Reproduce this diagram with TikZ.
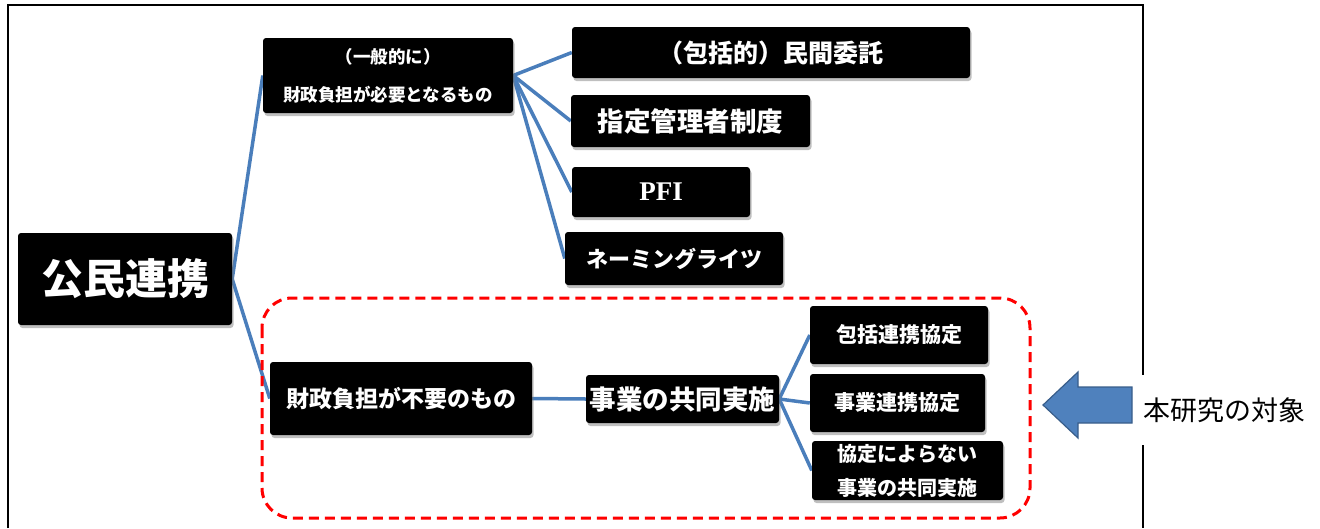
\documentclass[tikz,border=0pt]{standalone}
\usepackage{fontspec}
\setmainfont{Noto Sans CJK JP}
\newfontfamily\pfifont{Liberation Serif}
\usetikzlibrary{shadows,backgrounds}
\definecolor{linkblue}{RGB}{74,126,187}
\definecolor{arrowblue}{RGB}{79,129,189}
\definecolor{arrowedge}{RGB}{56,93,138}

\begin{document}
\begin{tikzpicture}[x=1pt,y=-1pt,
  box/.style={fill=black,text=white,rounded corners=3pt,inner sep=0pt,align=center,
    drop shadow={shadow xshift=1.5pt,shadow yshift=-3pt,opacity=.5}},
  link/.style={linkblue,line width=3.5pt}]
\useasboundingbox (0,0) rectangle (1320,528);
% frame (runs off the bottom)
\draw[line width=1.6pt] (8,528) -- (8,5) -- (1143,5) -- (1143,528);

% area of this study
\draw[red,line width=3pt,dash pattern=on 10pt off 6pt,rounded corners=30pt]
  (262,298) rectangle (1030,518);

% root
\node[box,minimum width=214,minimum height=92,font=\fontsize{42}{46}\selectfont\bfseries] (koumin) at (125,279) {公民連携};

% with financial burden
\node[box,minimum width=250,minimum height=75,font=\fontsize{17.5}{38}\selectfont\bfseries] (hitsuyou) at (388,75.5) {（一般的に）\\財政負担が必要となるもの};
\node[box,minimum width=398,minimum height=51,font=\fontsize{25}{28}\selectfont\bfseries] (itaku) at (771,52.5) {（包括的）民間委託};
\node[box,minimum width=239,minimum height=52,font=\fontsize{26.5}{28}\selectfont\bfseries] (shitei) at (690.5,121) {指定管理者制度};
\node[box,minimum width=178,minimum height=50,font=\fontsize{27}{30}\selectfont\pfifont\bfseries] (pfi) at (661,192) {PFI};
\node[box,minimum width=218,minimum height=53,font=\fontsize{22}{26}\selectfont\bfseries] (naming) at (674,258.5) {ネーミングライツ};

% without financial burden
\node[box,minimum width=262,minimum height=73,font=\fontsize{23}{26}\selectfont\bfseries] (fuyou) at (401,398.5) {財政負担が不要のもの};
\node[box,minimum width=193,minimum height=48,font=\fontsize{26.5}{28}\selectfont\bfseries] (kyoudou) at (682.5,399) {事業の共同実施};
\node[box,minimum width=178,minimum height=58,font=\fontsize{21}{24}\selectfont\bfseries] (houkatsu) at (899,335) {包括連携協定};
\node[box,minimum width=175,minimum height=58,font=\fontsize{21}{24}\selectfont\bfseries] (jigyou) at (897.5,403) {事業連携協定};
\node[box,minimum width=191,minimum height=59,font=\fontsize{20}{34}\selectfont\bfseries] (yoranai) at (907.5,470.5) {協定によらない\\事業の共同実施};

\begin{scope}[on background layer]
\draw[link] (koumin.east) -- (hitsuyou.west);
\draw[link] (koumin.east) -- (fuyou.west);
\draw[link] (hitsuyou.east) -- (itaku.west);
\draw[link] (hitsuyou.east) -- (shitei.west);
\draw[link] (hitsuyou.east) -- (pfi.west);
\draw[link] (hitsuyou.east) -- (naming.west);
\draw[link] (fuyou.east) -- (kyoudou.west);
\draw[link] (kyoudou.east) -- (houkatsu.west);
\draw[link] (kyoudou.east) -- (jigyou.west);
\draw[link] (kyoudou.east) -- (yoranai.west);
\end{scope}

% pointer to the study
\filldraw[fill=arrowblue,draw=arrowedge,line width=1.2pt]
  (1043,405) -- (1078,372) -- (1078,387) -- (1132,387) -- (1132,423) -- (1078,423) -- (1078,438) -- cycle;
\node[fill=white,minimum height=70,inner sep=2pt,font=\fontsize{27}{30}\selectfont] (taishou) at (1224,410) {本研究の対象};
\end{tikzpicture}
\end{document}
